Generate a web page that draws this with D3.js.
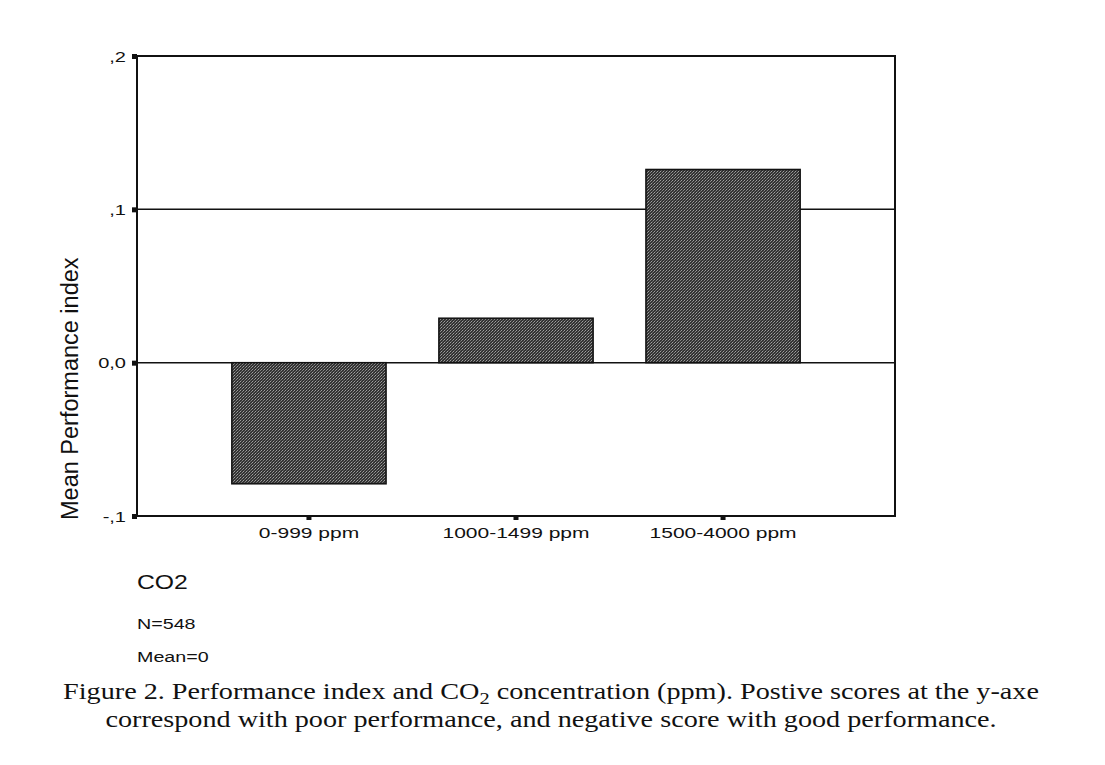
<!DOCTYPE html>
<html>
<head>
<meta charset="utf-8">
<script src="https://cdn.jsdelivr.net/npm/d3@7"></script>
<style>
  body { margin: 0; background: #fff; }
  svg text { fill: #111; }
</style>
</head>
<body>
<div id="chart"></div>
<script>
// values
var categories = ["0-999 ppm", "1000-1499 ppm", "1500-4000 ppm"];
var meanIndex = [-0.079, 0.029, 0.126];
var yTicks = [-0.1, 0, 0.1, 0.2];
var yTickLabels = ["-,1", "0,0", ",1", ",2"];
var gridValues = [0, 0.1];
var notes = ["N=548", "Mean=0"];

var width = 1105, height = 765;
var plotLeft = 137, plotRight = 895, plotTop = 56, plotBottom = 516;
var sans = "Liberation Sans, Arial, sans-serif";

var svg = d3.select("#chart").append("svg")
  .attr("width", width)
  .attr("height", height);

// dotted dark fill like the scanned bars
var defs = svg.append("defs");
var pat = defs.append("pattern")
  .attr("id", "dots")
  .attr("width", 3).attr("height", 3)
  .attr("patternUnits", "userSpaceOnUse");
pat.append("rect").attr("width", 3).attr("height", 3).attr("fill", "#333");
pat.append("rect").attr("x", 0).attr("y", 0).attr("width", 1).attr("height", 1).attr("fill", "#a0a0a0");
pat.append("rect").attr("x", 2).attr("y", 1).attr("width", 1).attr("height", 1).attr("fill", "#888");
pat.append("rect").attr("x", 1).attr("y", 2).attr("width", 1).attr("height", 1).attr("fill", "#6a6a6a");

var x = d3.scaleBand()
  .domain(categories)
  .range([plotLeft, plotRight])
  .paddingInner(0.255)
  .paddingOuter(0.458);

var y = d3.scaleLinear()
  .domain([-0.1, 0.2])
  .range([plotBottom, plotTop]);

// grid lines
svg.append("g").selectAll("line")
  .data(gridValues)
  .enter().append("line")
  .attr("x1", plotLeft).attr("x2", plotRight)
  .attr("y1", function(d){ return y(d); })
  .attr("y2", function(d){ return y(d); })
  .attr("stroke", "#111")
  .attr("stroke-width", 1.5);

// bars
svg.append("g").selectAll("rect")
  .data(meanIndex)
  .enter().append("rect")
  .attr("x", function(d, i){ return x(categories[i]); })
  .attr("width", x.bandwidth())
  .attr("y", function(d){ return y(Math.max(0, d)); })
  .attr("height", function(d){ return Math.abs(y(d) - y(0)); })
  .attr("fill", "url(#dots)")
  .attr("stroke", "#111")
  .attr("stroke-width", 1.5);

// frame
svg.append("rect")
  .attr("x", plotLeft).attr("y", plotTop)
  .attr("width", plotRight - plotLeft).attr("height", plotBottom - plotTop)
  .attr("fill", "none")
  .attr("stroke", "#111")
  .attr("stroke-width", 2);

// y axis: square tick marks and labels (text is wide in the scan, so stretch it)
var yAxis = d3.axisLeft(y)
  .tickValues(yTicks)
  .tickSize(0)
  .tickPadding(0)
  .tickFormat(function(d, i){ return yTickLabels[i]; });
var gy = svg.append("g")
  .attr("transform", "translate(" + plotLeft + ",0)")
  .call(yAxis);
gy.select(".domain").remove();
gy.selectAll(".tick text")
  .attr("x", 0)
  .attr("font-family", sans)
  .attr("font-size", 14.5)
  .attr("dy", "0.35em")
  .attr("transform", "translate(-11,0) scale(1.38,1)")
  .style("fill", "#111");
gy.selectAll(".tick").append("rect")
  .attr("x", -5).attr("y", -2.5)
  .attr("width", 5).attr("height", 5)
  .attr("fill", "#111");

// x axis
var xAxis = d3.axisBottom(x).tickSize(0).tickPadding(0);
var gx = svg.append("g")
  .attr("transform", "translate(0," + plotBottom + ")")
  .call(xAxis);
gx.select(".domain").remove();
gx.selectAll(".tick text")
  .attr("y", 0)
  .attr("dy", 0)
  .attr("font-family", sans)
  .attr("font-size", 14)
  .attr("transform", "translate(0,22) scale(1.5,1)")
  .style("fill", "#111");
gx.selectAll(".tick").append("rect")
  .attr("x", -2.5).attr("y", 0)
  .attr("width", 5).attr("height", 4)
  .attr("fill", "#111");

// y axis title
svg.append("text")
  .attr("transform", "translate(78,520) rotate(-90)")
  .attr("font-family", sans)
  .attr("font-size", 23.5)
  .attr("text-anchor", "start")
  .text("Mean Performance index");

// variable name and notes
svg.append("text")
  .attr("transform", "translate(137,589) scale(1.27,1)")
  .attr("font-family", sans)
  .attr("font-size", 19.5)
  .text("CO2");

svg.append("g").selectAll("text")
  .data(notes)
  .enter().append("text")
  .attr("transform", function(d, i){ return "translate(137," + (629 + i * 33) + ") scale(1.27,1)"; })
  .attr("font-family", sans)
  .attr("font-size", 15.5)
  .text(function(d){ return d; });

// caption
var cap = svg.append("g")
  .attr("font-family", "Liberation Serif, Times New Roman, serif")
  .attr("font-size", 23.5)
  .attr("text-anchor", "middle");
var l1 = cap.append("text").attr("transform", "translate(551,699) scale(1.2,1)");
l1.append("tspan").text("Figure 2. Performance index and CO");
l1.append("tspan").attr("dy", 5).attr("font-size", 17).text("2");
l1.append("tspan").attr("dy", -5).text(" concentration (ppm). Postive scores at the y-axe");
cap.append("text").attr("transform", "translate(551,727) scale(1.2,1)")
  .text("correspond with poor performance, and negative score with good performance.");
</script>
</body>
</html>
